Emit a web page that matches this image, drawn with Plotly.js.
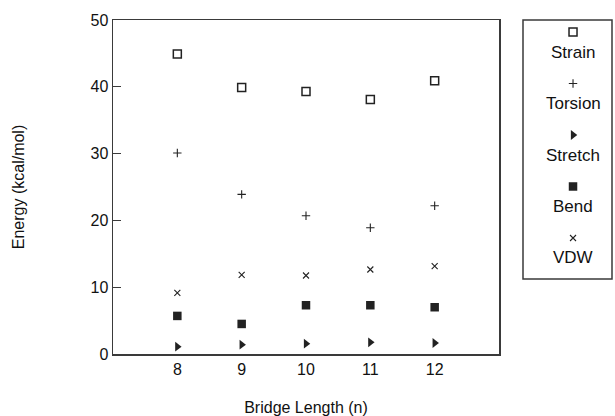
<!DOCTYPE html>
<html>
<head>
<meta charset="utf-8">
<script src="https://cdn.plot.ly/plotly-3.0.1.min.js"></script>
<style>html,body{margin:0;padding:0;background:#fff;}#chart{width:615px;height:416px;}</style>
</head>
<body>
<div id="chart"></div>
<script>
// ---- data ----
const bridgeLength = [8, 9, 10, 11, 12];
const strain  = [44.9, 39.9, 39.3, 38.1, 40.9];
const torsion = [30.1, 23.9, 20.7, 18.9, 22.2];
const stretch = [1.1, 1.4, 1.55, 1.75, 1.65];
const bend    = [5.7, 4.5, 7.3, 7.3, 7.0];
const vdw     = [9.15, 11.85, 11.75, 12.65, 13.15];
const seriesNames = ["Strain", "Torsion", "Stretch", "Bend", "VDW"];
const yTickVals = [0, 10, 20, 30, 40, 50];
const xTickVals = [8, 9, 10, 11, 12];

const ink = "#222";
const font = "Liberation Sans, Arial, Helvetica, sans-serif";
const markers = {
  Strain:  {symbol: "square-open", size: 8, color: ink, line: {width: 1.5, color: ink}},
  Torsion: {symbol: "cross-thin-open", size: 6, color: ink, line: {width: 1.1, color: ink}},
  Stretch: {symbol: "triangle-right", size: 8.5, color: ink, line: {width: 0}},
  Bend:    {symbol: "square", size: 8.5, color: ink, line: {width: 0}},
  VDW:     {symbol: "x-thin-open", size: 6, color: ink, line: {width: 1.1, color: ink}}
};
const seriesValues = {Strain: strain, Torsion: torsion, Stretch: stretch, Bend: bend, VDW: vdw};

const traces = [];
seriesNames.forEach(function (name) {
  traces.push({
    type: "scatter", mode: "markers", name: name,
    x: bridgeLength, y: seriesValues[name],
    marker: markers[name], showlegend: false, hoverinfo: "x+y+name"
  });
});
// custom legend: symbol above its label, drawn on helper axes
const annotations = [];
seriesNames.forEach(function (name, i) {
  traces.push({
    type: "scatter", mode: "markers", name: name + " (legend)",
    x: [0], y: [i], xaxis: "x2", yaxis: "y2",
    marker: markers[name], showlegend: false, hoverinfo: "skip"
  });
  annotations.push({
    xref: "x2", yref: "y2", x: 0, y: i, yshift: -20,
    text: name, showarrow: false,
    font: {family: font, size: 17, color: "#111"},
    xanchor: "center", yanchor: "middle"
  });
});

const layout = {
  width: 615, height: 416,
  margin: {l: 113, r: 2, t: 20, b: 62},
  paper_bgcolor: "#fff", plot_bgcolor: "#fff",
  font: {family: font, color: "#111", size: 16},
  showlegend: false,
  xaxis: {
    domain: [0, 0.772], range: [7, 13],
    tickvals: xTickVals, ticktext: xTickVals.map(String),
    ticks: "", showgrid: false, zeroline: false,
    showline: true, mirror: true, linecolor: "#3a3a3a", linewidth: 1.5,
    tickfont: {family: font, size: 16, color: "#111"},
    title: {text: "Bridge Length (n)", font: {family: font, size: 16, color: "#111"}, standoff: 32}
  },
  yaxis: {
    range: [0, 50], tickvals: yTickVals, ticktext: yTickVals.map(String),
    ticks: "inside", ticklen: 8, tickwidth: 1.3, tickcolor: "#3a3a3a",
    showgrid: false, zeroline: false,
    showline: true, mirror: true, linecolor: "#3a3a3a", linewidth: 1.5,
    tickfont: {family: font, size: 16, color: "#111"},
    title: {text: "Energy (kcal/mol)", font: {family: font, size: 16, color: "#111"}, standoff: 62}
  },
  xaxis2: {domain: [0.82, 0.998], range: [-1.124, 0.876], visible: false, fixedrange: true, anchor: "y2"},
  yaxis2: {domain: [0.2246, 1], range: [4.796, -0.233], visible: false, fixedrange: true, anchor: "x2"},
  shapes: [{
    type: "rect", xref: "paper", yref: "paper",
    x0: 0.82, x1: 0.998, y0: 0.2246, y1: 1,
    line: {color: "#3a3a3a", width: 1.5}, fillcolor: "rgba(0,0,0,0)"
  }],
  annotations: annotations
};

Plotly.newPlot("chart", traces, layout, {displayModeBar: false, staticPlot: true});
</script>
</body>
</html>
